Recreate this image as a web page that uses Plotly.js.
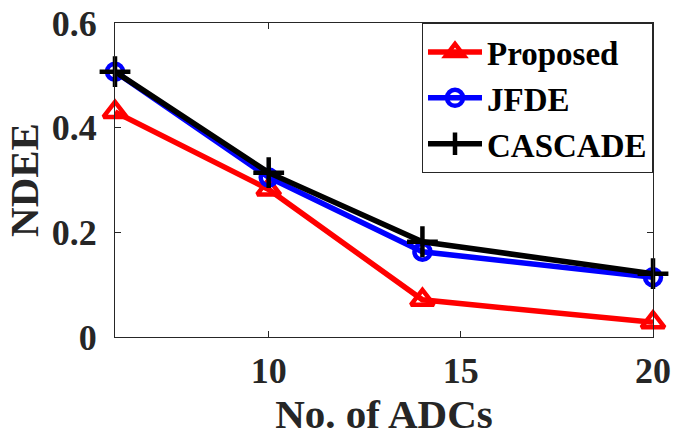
<!DOCTYPE html>
<html>
<head>
<meta charset="utf-8">
<script src="https://cdn.plot.ly/plotly-3.0.1.min.js"></script>
<style>html,body{margin:0;padding:0;background:#fff;}#chart{width:674px;height:440px;}</style>
</head>
<body>
<div id="chart"></div>
<script>
const adcs = [6, 10, 14, 20];
const proposed = [0.430, 0.282, 0.071, 0.028];
const jfde = [0.507, 0.305, 0.163, 0.114];
const cascade = [0.507, 0.314, 0.182, 0.121];
const seriesNames = ['Proposed', 'JFDE', 'CASCADE'];
const xTicks = [10, 15, 20];
const yTicks = [0, 0.2, 0.4, 0.6];
const yTickText = ['0', '0.2', '0.4', '0.6'];

const FONT = '"Liberation Serif", "Times New Roman", serif';

const traces = [
  {x: adcs, y: proposed, name: seriesNames[0], legendgroup: 'a', mode: 'lines+markers', cliponaxis: false,
   line: {color: '#ff0000', width: 5.5},
   marker: {symbol: 'triangle-up-open', size: 20, color: '#ff0000', line: {width: 4.5, color: '#ff0000'}}},
  {x: adcs, y: jfde, name: seriesNames[1], legendgroup: 'b', mode: 'lines+markers', cliponaxis: false,
   line: {color: '#0000ff', width: 5.5},
   marker: {symbol: 'circle-open', size: 16, color: '#0000ff', line: {width: 4.5, color: '#0000ff'}}},
  {x: adcs, y: cascade, name: seriesNames[2], legendgroup: 'c', mode: 'lines+markers', cliponaxis: false,
   line: {color: '#000000', width: 5.5},
   marker: {symbol: 'cross-thin-open', size: 22, color: '#000000', line: {width: 4.5, color: '#000000'}}}
];

const layout = {
  width: 674, height: 440,
  margin: {l: 115, r: 21, t: 23, b: 103},
  paper_bgcolor: '#ffffff', plot_bgcolor: '#ffffff',
  font: {family: FONT, color: '#262626'},
  showlegend: true,
  legend: {
    x: 1, y: 1, xanchor: 'right', yanchor: 'top',
    bgcolor: '#ffffff', bordercolor: '#262626', borderwidth: 1,
    font: {family: FONT, size: 33, color: '#000000', weight: 'bold'},
    traceorder: 'grouped', tracegroupgap: 0, itemwidth: 54
  },
  xaxis: {
    range: [6, 20], tickvals: xTicks, ticktext: xTicks.map(String),
    showgrid: false, zeroline: false, showline: true, linecolor: '#262626', linewidth: 1,
    mirror: 'ticks', ticks: 'inside', ticklen: 6, tickcolor: '#262626',
    tickfont: {family: FONT, size: 36, color: '#262626', weight: 'bold'},
    ticklabelstandoff: 2,
    title: {text: 'No. of ADCs', font: {family: FONT, size: 41, color: '#262626', weight: 'bold'}, standoff: 4}
  },
  yaxis: {
    range: [0, 0.6], tickvals: yTicks, ticktext: yTickText,
    showgrid: false, zeroline: false, showline: true, linecolor: '#262626', linewidth: 1,
    mirror: 'ticks', ticks: 'inside', ticklen: 6, tickcolor: '#262626',
    tickfont: {family: FONT, size: 36, color: '#262626', weight: 'bold'},
    ticklabelstandoff: 10,
    title: {text: 'NDEE', font: {family: FONT, size: 41, color: '#262626', weight: 'bold'}, standoff: 0}
  }
};

Plotly.newPlot('chart', traces, layout, {displayModeBar: false, staticPlot: true});
</script>
</body>
</html>
